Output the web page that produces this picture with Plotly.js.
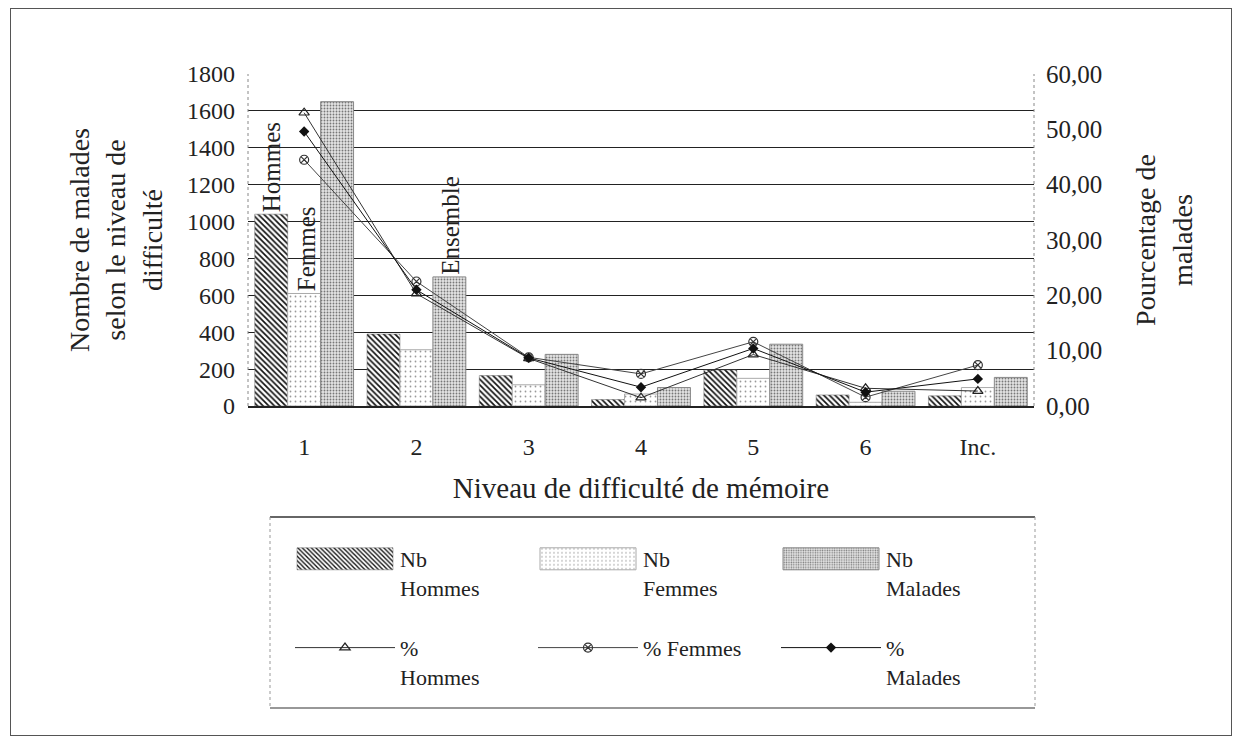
<!DOCTYPE html>
<html><head><meta charset="utf-8">
<script src="https://cdn.plot.ly/plotly-3.0.1.min.js"></script>
<style>
html,body{margin:0;padding:0;background:#fff;}
#wrap{position:relative;width:1241px;height:741px;overflow:hidden;}
#chart{width:1241px;height:741px;}
#frame{position:absolute;left:10px;top:8px;width:1220px;height:726px;border:1px solid #555;pointer-events:none;}
</style></head><body>
<div id="wrap"><div id="chart"></div><div id="frame"></div></div>
<script>
const categories = ['1','2','3','4','5','6','Inc.'];
const nbHommes  = [1040, 390, 165, 35, 195, 60, 55];
const nbFemmes  = [610, 305, 115, 65, 150, 20, 100];
const nbMalades = [1650, 700, 280, 100, 335, 80, 155];
const pctHommes  = [53.0, 20.3, 8.6, 1.5, 9.3, 3.2, 2.7];
const pctFemmes  = [44.5, 22.5, 8.8, 5.8, 11.6, 1.6, 7.4];
const pctMalades = [49.6, 21.0, 8.7, 3.4, 10.4, 2.5, 4.9];
const seriesNames = ['Nb<br>Hommes<br> ', 'Nb<br>Femmes<br> ', 'Nb<br>Malades<br> ', '%<br>Hommes', '% Femmes', '%<br>Malades'];
const barLabels = [
  {cat: '1', value: 1040, text: 'Hommes', series: 0},
  {cat: '1', value: 610, text: 'Femmes', series: 1},
  {cat: '2', value: 700, text: 'Ensemble', series: 2}
];

const FONT = 'Liberation Serif, Times New Roman, serif';
const INK = '#222';

const traces = [
  {type:'bar', name: seriesNames[0], x: categories, y: nbHommes,
   marker:{color:'#fff', line:{color:'#666', width:0.5},
     pattern:{shape:'\\', fgcolor:'#111', bgcolor:'#fff', size:4, solidity:0.42}}},
  {type:'bar', name: seriesNames[1], x: categories, y: nbFemmes,
   marker:{color:'#fff', line:{color:'#aaa', width:1},
     pattern:{shape:'.', fgcolor:'#999', bgcolor:'#fff', size:5, solidity:0.1}}},
  {type:'bar', name: seriesNames[2], x: categories, y: nbMalades,
   marker:{color:'#ddd', line:{color:'#888', width:1},
     pattern:{shape:'.', fgcolor:'#777', bgcolor:'#e4e4e4', size:3, solidity:0.3}}},
  {type:'scatter', mode:'lines+markers', name: seriesNames[3], x: categories, y: pctHommes, yaxis:'y2',
   line:{color:'#333', width:1}, marker:{symbol:'triangle-up-open', size:9, color:'#222', line:{width:1.2}}},
  {type:'scatter', mode:'lines+markers', name: seriesNames[4], x: categories, y: pctFemmes, yaxis:'y2',
   line:{color:'#444', width:1}, marker:{symbol:'circle-x-open', size:9, color:'#333', line:{width:1.2}}},
  {type:'scatter', mode:'lines+markers', name: seriesNames[5], x: categories, y: pctMalades, yaxis:'y2',
   line:{color:'#111', width:1}, marker:{symbol:'diamond', size:8, color:'#111'}}
];

const barShift = [-33, 3, 34];
const annotations = barLabels.map(b => ({
  x: categories.indexOf(b.cat), y: b.value, xref:'x', yref:'y', text: b.text, textangle: -90,
  showarrow:false, xanchor:'center', yanchor:'bottom', xshift: barShift[b.series],
  font:{family: FONT, size: 25, color: INK}
}));

const pl = 248, pr = 1034, pt = 74, pb = 406;
const W = pr - pl, H = pb - pt;
const px = v => (v - pl) / W;
const py = v => (pb - v) / H;

const shapes = [
  {type:'line', xref:'paper', yref:'paper', x0:0, x1:0, y0:0, y1:1, line:{color:'#888', width:1, dash:'dot'}},
  {type:'line', xref:'paper', yref:'paper', x0:1, x1:1, y0:0, y1:1, line:{color:'#888', width:1, dash:'dot'}},
  {type:'line', xref:'paper', yref:'paper', x0:px(270), x1:px(1035), y0:py(517), y1:py(517), line:{color:'#333', width:1.5}},
  {type:'line', xref:'paper', yref:'paper', x0:px(270), x1:px(1035), y0:py(708), y1:py(708), line:{color:'#333', width:1.2}},
  {type:'line', xref:'paper', yref:'paper', x0:px(270), x1:px(270), y0:py(517), y1:py(708), line:{color:'#999', width:1, dash:'dot'}},
  {type:'line', xref:'paper', yref:'paper', x0:px(1035), x1:px(1035), y0:py(517), y1:py(708), line:{color:'#999', width:1, dash:'dot'}}
];

const layout = {
  width:1241, height:741,
  margin:{l:pl, r:1241-pr, t:pt, b:741-pb, autoexpand:false},
  paper_bgcolor:'#fff', plot_bgcolor:'#fff',
  separators:', ',
  font:{family: FONT, color: INK},
  barmode:'group', bargap:0.12, bargroupgap:0,
  showlegend:true,
  xaxis:{type:'category', showgrid:false, zeroline:false, showline:true, linecolor:'#222', linewidth:1.5,
    ticks:'', tickfont:{size:24, family:FONT}, ticklabelstandoff:19,
    title:{text:'Niveau de difficulté de mémoire', font:{size:29, family:FONT}, standoff:18}},
  yaxis:{range:[0,1800], tickvals:[0,200,400,600,800,1000,1200,1400,1600,1800], showgrid:true, gridcolor:'#222', gridwidth:1,
    zeroline:false, showline:false, ticks:'', tickfont:{size:24, family:FONT}, ticklabelstandoff:12,
    title:{text:'Nombre de malades<br>selon le niveau de<br>difficulté', font:{size:28, family:FONT}, standoff:16}},
  yaxis2:{overlaying:'y', side:'right', range:[0,60], tickvals:[0,10,20,30,40,50,60], tickformat:'.2f',
    showgrid:false, zeroline:false, showline:false, ticks:'', tickfont:{size:25, family:FONT}, ticklabelstandoff:11,
    title:{text:'Pourcentage de<br>malades', font:{size:28, family:FONT}, standoff:34}},
  legend:{orientation:'h', x:px(290), y:py(538), xanchor:'left', yanchor:'top',
    entrywidth:128, entrywidthmode:'pixels', itemwidth:100, valign:'top',
    font:{size:22, family:FONT, color:INK}, bgcolor:'rgba(0,0,0,0)', borderwidth:0, traceorder:'normal'},
  annotations: annotations,
  shapes: shapes
};

function widenLegend(){
  document.querySelectorAll('#chart .legendpoints path').forEach(p => {
    const d = (p.getAttribute('d') || '').replace(/\s/g, '');
    if (/^M6,6H-6V-6H6Z$/.test(d)) {
      p.setAttribute('d', 'M48,11H-48V-11H48Z');
    }
  });
}
const gd = document.getElementById('chart');
Plotly.newPlot(gd, traces, layout, {staticPlot:true, displayModeBar:false}).then(() => {
  widenLegend();
  gd.on('plotly_afterplot', widenLegend);
  setTimeout(widenLegend, 50);
  setTimeout(widenLegend, 300);
});
</script>
</body></html>
